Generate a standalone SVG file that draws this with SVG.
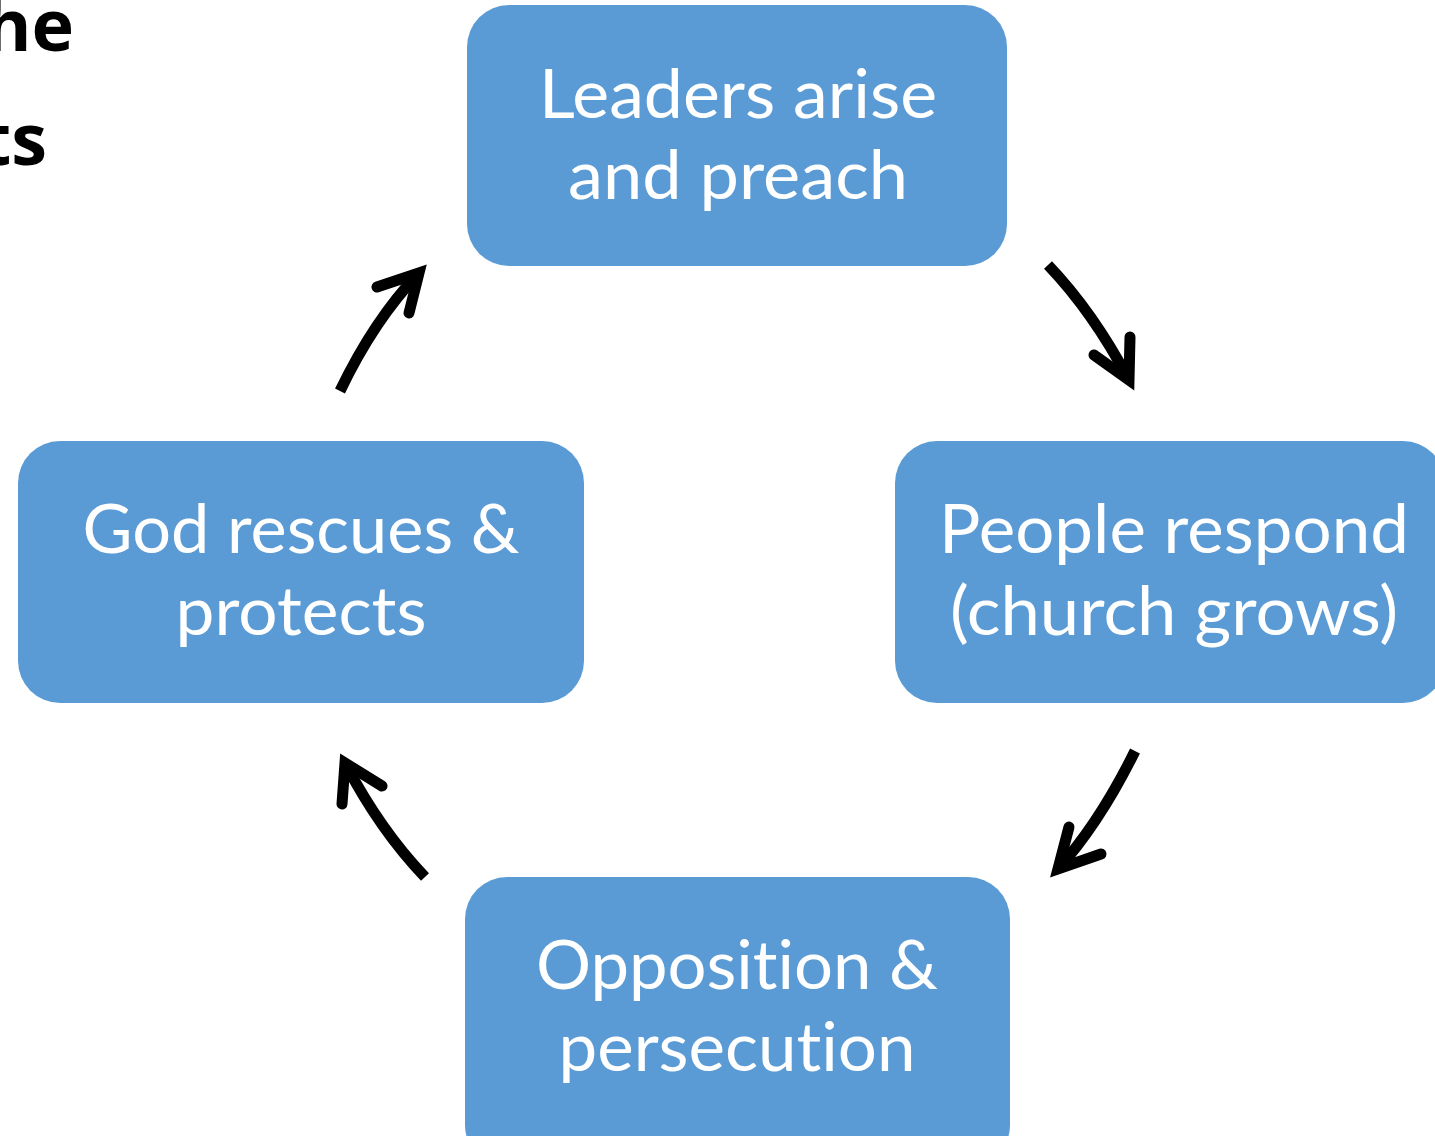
<svg xmlns="http://www.w3.org/2000/svg" width="1435" height="1136" viewBox="0 0 1435 1136">
<style>
.box{fill:#5B9BD5;}
.lbl{font-family:Lato,"Open Sans","Liberation Sans",sans-serif;font-size:67px;fill:#FFFFFF;text-anchor:middle;font-variant-ligatures:none;font-feature-settings:"liga" 0,"clig" 0,"dlig" 0;}
.title{font-family:"Open Sans","Liberation Sans",sans-serif;font-weight:bold;font-size:72px;fill:#000000;text-anchor:end;}
.shaft{fill:none;stroke:#000;stroke-width:11;stroke-linecap:butt;}
.head{fill:none;stroke:#000;stroke-width:11;stroke-linecap:round;stroke-linejoin:miter;stroke-miterlimit:10;}
</style>
<rect width="1435" height="1136" fill="#FFFFFF"/>
<g id="title">
<text class="title" x="74" y="51">he</text>
<text class="title" x="47" y="165">ts</text>
</g>
<g id="node-leaders">
<rect class="box" x="467" y="5" width="540" height="261" rx="42"/>
<text class="lbl" x="738" y="118" textLength="398" lengthAdjust="spacingAndGlyphs">Leaders arise</text>
<text class="lbl" x="738" y="199" textLength="340" lengthAdjust="spacingAndGlyphs">and preach</text>
</g>
<g id="node-people">
<rect class="box" x="895" y="441" width="550" height="262" rx="42"/>
<text class="lbl" x="1174" y="553" textLength="470" lengthAdjust="spacingAndGlyphs">People respond</text>
<text class="lbl" x="1174" y="635" textLength="448" lengthAdjust="spacingAndGlyphs">(church grows)</text>
</g>
<g id="node-opposition">
<rect class="box" x="465" y="877" width="545" height="290" rx="42"/>
<text class="lbl" x="737" y="989" textLength="402" lengthAdjust="spacingAndGlyphs">Opposition &amp;</text>
<text class="lbl" x="737" y="1071" textLength="357" lengthAdjust="spacingAndGlyphs">persecution</text>
</g>
<g id="node-god">
<rect class="box" x="18" y="441" width="566" height="262" rx="42"/>
<text class="lbl" x="301" y="553" textLength="437" lengthAdjust="spacingAndGlyphs">God rescues &amp;</text>
<text class="lbl" x="301" y="635" textLength="251" lengthAdjust="spacingAndGlyphs">protects</text>
</g>
<g id="connectors">
<path class="shaft" d="M1048,265 Q1093,312 1129,380"/>
<polyline class="head" points="1130,337 1129,380 1094,355"/>
<path class="shaft" d="M1135,751 Q1100,822 1058,869"/>
<polyline class="head" points="1069,827 1058,869 1101,854"/>
<path class="shaft" d="M425,877 Q380,830 345,763"/>
<polyline class="head" points="342,804 345,763 382,786"/>
<path class="shaft" d="M340,391 Q374,320 419,273"/>
<polyline class="head" points="377,287 419,273 409,313"/>
</g>
</svg>
